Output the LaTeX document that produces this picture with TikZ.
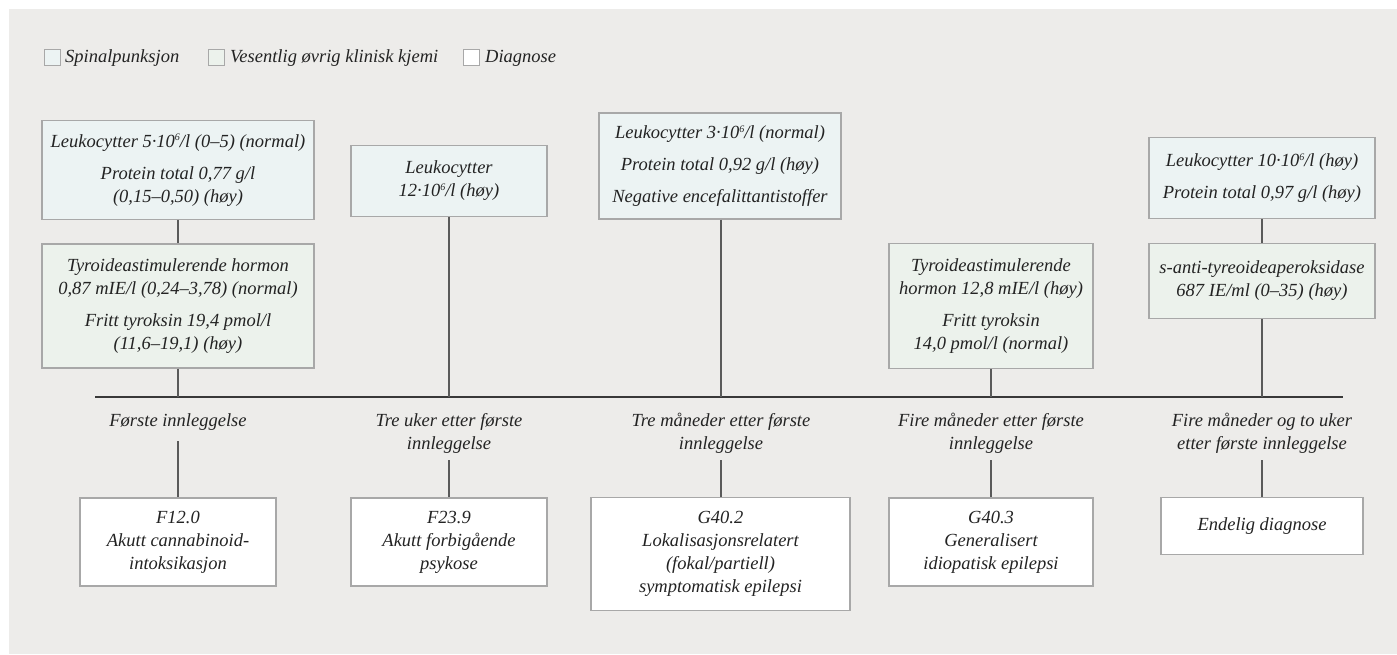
\documentclass[tikz,border=0pt]{standalone}
\usepackage{fontspec}
\setmainfont{Liberation Serif}
\definecolor{bg}{RGB}{237,236,234}
\definecolor{spinfill}{RGB}{236,243,243}
\definecolor{chemfill}{RGB}{236,242,236}
\definecolor{boxline}{RGB}{168,168,168}
\definecolor{stem}{RGB}{90,90,90}
\definecolor{txt}{RGB}{35,35,35}
\newcommand{\tsize}{\fontsize{18.5}{23}\selectfont}
\newcommand{\sixsup}{\raisebox{0.75ex}{\fontsize{10}{10}\selectfont 6}}
\tikzset{
  boxbase/.style={draw=boxline, line width=1.2pt, inner sep=0pt, align=center,
    font=\itshape\tsize, text=txt},
  spinbox/.style={boxbase, fill=spinfill},
  chembox/.style={boxbase, fill=chemfill},
  diagbox/.style={boxbase, fill=white},
  sz/.style n args={2}{minimum width=#1pt, minimum height=#2pt},
  tlabel/.style={align=center, font=\itshape\tsize, text=txt, inner sep=0pt},
  legsq/.style={draw=boxline, line width=1pt, minimum size=16pt, inner sep=0pt},
  conn/.style={draw=stem, line width=1.2pt},
  axis/.style={draw=txt!90, line width=1.3pt}
}
\begin{document}
\begin{tikzpicture}[x=1pt,y=-1pt]
\useasboundingbox (0,0) rectangle (1397,654);
\fill[bg] (9,9) rectangle (1397,654);

% legend
\node[legsq, fill=spinfill] (lg1) at (52,57) {};
\node[tlabel, anchor=west] (lt1) at (65,58) {Spinalpunksjon};
\node[legsq, fill=chemfill] (lg2) at (216,57) {};
\node[tlabel, anchor=west] (lt2) at (230,58) {Vesentlig øvrig klinisk kjemi};
\node[legsq, fill=white] (lg3) at (471,57) {};
\node[tlabel, anchor=west] (lt3) at (485,58) {Diagnose};

% timeline
\coordinate (tlA) at (95,397);
\coordinate (tlB) at (1343,397);
\draw[axis] (tlA) -- (tlB);
\coordinate (t1) at (178,397);
\coordinate (t2) at (449,397);
\coordinate (t3) at (721,397);
\coordinate (t4) at (991,397);
\coordinate (t5) at (1262,397);

% column 1
\node[spinbox, sz={272}{99}] (s1) at (178,170)
  {Leukocytter 5·10\sixsup/l (0–5) (normal)\\[9pt]
   Protein total 0,77 g/l\\(0,15–0,50) (høy)};
\node[chembox, sz={272}{124}] (c1) at (178,306)
  {Tyroideastimulerende hormon\\0,87 mIE/l (0,24–3,78) (normal)\\[9pt]
   Fritt tyroksin 19,4 pmol/l\\(11,6–19,1) (høy)};
\draw[conn] (s1) -- (c1);
\draw[conn] (c1) -- (t1);

% column 2
\node[spinbox, sz={196}{71}] (s2) at (449,181)
  {Leukocytter\\12·10\sixsup/l (høy)};
\draw[conn] (s2) -- (t2);

% column 3
\node[spinbox, sz={242}{106}] (s3) at (720,166)
  {Leukocytter 3·10\sixsup/l (normal)\\[9pt]
   Protein total 0,92 g/l (høy)\\[9pt]
   Negative encefalittantistoffer};
\draw[conn] (s3.south -| t3) -- (t3);

% column 4
\node[chembox, sz={204}{125}] (c4) at (991,306)
  {Tyroideastimulerende\\hormon 12,8 mIE/l (høy)\\[9pt]
   Fritt tyroksin\\14,0 pmol/l (normal)};
\draw[conn] (c4) -- (t4);

% column 5
\node[spinbox, sz={226}{81}] (s5) at (1262,178)
  {Leukocytter 10·10\sixsup/l (høy)\\[9pt]
   Protein total 0,97 g/l (høy)};
\node[chembox, sz={226}{75}] (c5) at (1262,281)
  {s-anti-tyreoideaperoksidase\\687 IE/ml (0–35) (høy)};
\draw[conn] (s5) -- (c5);
\draw[conn] (c5) -- (t5);

% labels below timeline
\node[tlabel] (l1) at (178,422) {Første innleggelse};
\node[tlabel] (l2) at (449,433.5) {Tre uker etter første\\innleggelse};
\node[tlabel] (l3) at (721,433.5) {Tre måneder etter første\\innleggelse};
\node[tlabel] (l4) at (991,433.5) {Fire måneder etter første\\innleggelse};
\node[tlabel] (l5) at (1262,433.5) {Fire måneder og to uker\\etter første innleggelse};

\coordinate (u1) at (178,441);
\coordinate (u2) at (449,460);
\coordinate (u3) at (721,460);
\coordinate (u4) at (991,460);
\coordinate (u5) at (1262,460);

% diagnoses
\node[diagbox, sz={196}{88}] (d1) at (178,542)
  {F12.0\\Akutt cannabinoid-\\intoksikasjon};
\node[diagbox, sz={196}{88}] (d2) at (449,542)
  {F23.9\\Akutt forbigående\\psykose};
\node[diagbox, sz={259}{113}] (d3) at (720.5,554)
  {G40.2\\Lokalisasjonsrelatert\\(fokal/partiell)\\symptomatisk epilepsi};
\node[diagbox, sz={204}{88}] (d4) at (991,542)
  {G40.3\\Generalisert\\idiopatisk epilepsi};
\node[diagbox, sz={202}{57}] (d5) at (1262,526)
  {Endelig diagnose};

\draw[conn] (u1) -- (d1);
\draw[conn] (u2) -- (d2);
\draw[conn] (u3) -- (d3.north -| u3);
\draw[conn] (u4) -- (d4);
\draw[conn] (u5) -- (d5);
\end{tikzpicture}
\end{document}
